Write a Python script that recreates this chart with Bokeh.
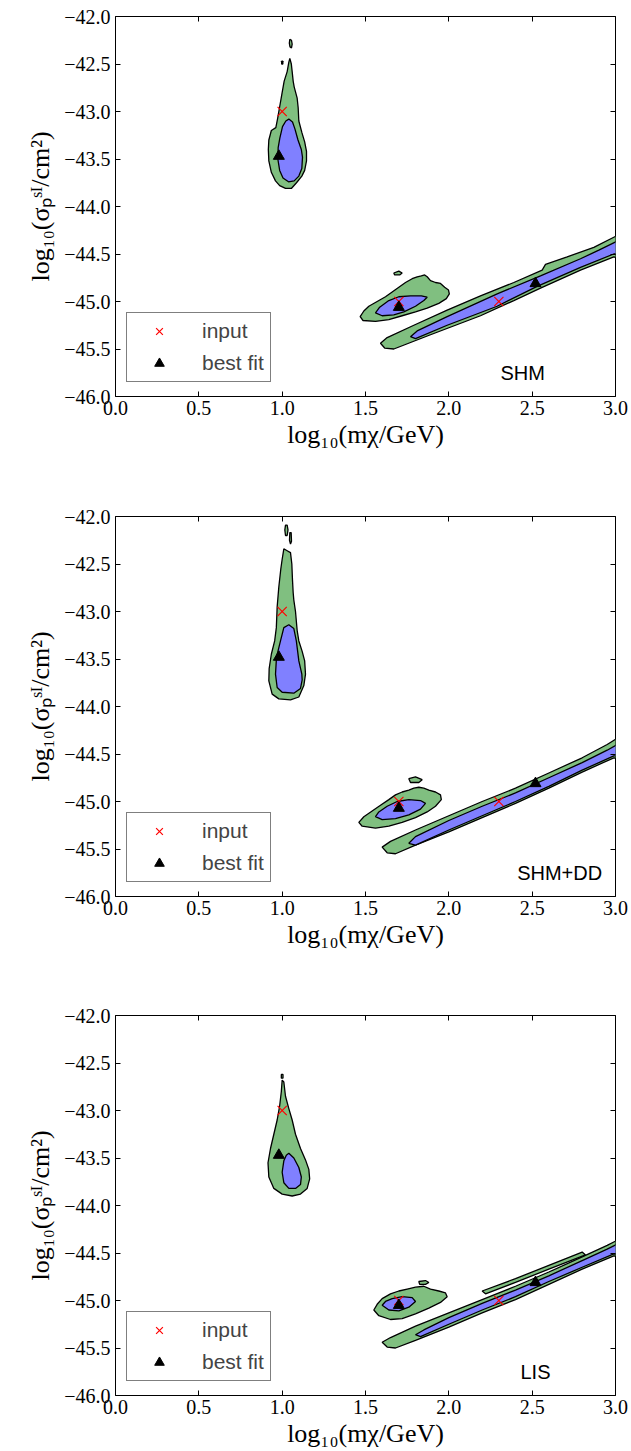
import numpy as np
from bokeh.plotting import figure
from bokeh.layouts import column
from bokeh.models import Legend, LegendItem, LinearAxis, Label, FixedTicker, Range1d
from bokeh.embed import file_html
from bokeh.resources import INLINE

# ---------------- data ----------------
x_ticks = [0.0, 0.5, 1.0, 1.5, 2.0, 2.5, 3.0]
x_tick_labels = ["0.0", "0.5", "1.0", "1.5", "2.0", "2.5", "3.0"]
y_ticks = [-46.0, -45.5, -45.0, -44.5, -44.0, -43.5, -43.0, -42.5, -42.0]
y_tick_labels = ["\u221246.0", "\u221245.5", "\u221245.0", "\u221244.5", "\u221244.0",
                 "\u221243.5", "\u221243.0", "\u221242.5", "\u221242.0"]

panel_names = ["SHM", "SHM+DD", "LIS"]

input_x = [1.0, 1.7, 2.3]
input_y = [-43.0, -45.0, -45.0]

fit_x_shm = [0.98, 1.70, 2.52]
fit_y_shm = [-43.47, -45.06, -44.81]
fit_x_dd = [0.98, 1.70, 2.52]
fit_y_dd = [-43.48, -45.07, -44.81]
fit_x_lis = [0.98, 1.70, 2.52]
fit_y_lis = [-43.47, -45.05, -44.81]

# ---- SHM contours (2 sigma = green, 1 sigma = blue) ----
shm_g_low_x = [1.046, 1.055, 1.060, 1.066, 1.072, 1.090, 1.096, 1.100, 1.118, 1.135, 1.146, 1.146, 1.135,
               1.118, 1.086, 1.055, 1.020, 0.985, 0.960, 0.935, 0.920, 0.917, 0.920, 0.935, 0.962, 0.972,
               0.985, 0.998, 1.012, 1.030, 1.040]
shm_g_low_y = [-42.44, -42.50, -42.58, -42.68, -42.74, -42.86, -42.96, -43.10, -43.22, -43.32, -43.42, -43.52,
               -43.62, -43.68, -43.75, -43.81, -43.81, -43.78, -43.73, -43.64, -43.52, -43.40, -43.30, -43.20,
               -43.17, -43.08, -42.95, -42.82, -42.68, -42.58, -42.48]
shm_g_isl1_x = [1.046, 1.056, 1.060, 1.056, 1.047, 1.043]
shm_g_isl1_y = [-42.24, -42.25, -42.29, -42.33, -42.32, -42.28]
shm_g_isl2_x = [0.997, 1.004, 1.004, 0.997]
shm_g_isl2_y = [-42.47, -42.47, -42.50, -42.50]
shm_b_low_x = [1.040, 1.062, 1.076, 1.095, 1.115, 1.122, 1.118, 1.100, 1.072, 1.038, 1.005, 0.985, 0.974,
               0.976, 0.986, 1.002, 1.022]
shm_b_low_y = [-43.08, -43.11, -43.18, -43.30, -43.40, -43.48, -43.60, -43.68, -43.73, -43.74, -43.70, -43.62,
               -43.50, -43.38, -43.28, -43.16, -43.10]

shm_g_mid_x = [1.468, 1.485, 1.560, 1.640, 1.720, 1.800, 1.870, 1.940, 1.985, 2.003, 1.998, 1.975, 1.950,
               1.920, 1.890, 1.870, 1.855, 1.835, 1.810, 1.780, 1.740, 1.700, 1.660, 1.620, 1.570, 1.520,
               1.490]
shm_g_mid_y = [-45.16, -45.20, -45.21, -45.19, -45.15, -45.11, -45.07, -45.02, -44.97, -44.92, -44.88, -44.85,
               -44.81, -44.80, -44.78, -44.74, -44.72, -44.73, -44.74, -44.76, -44.80, -44.85, -44.90, -44.95,
               -45.00, -45.05, -45.10]
shm_b_mid_x = [1.560, 1.600, 1.670, 1.730, 1.800, 1.850, 1.870, 1.835, 1.770, 1.700, 1.640, 1.585]
shm_b_mid_y = [-45.12, -45.15, -45.14, -45.11, -45.05, -44.99, -44.955, -44.94, -44.94, -44.95, -44.99, -45.06]
shm_g_isl3_x = [1.670, 1.700, 1.720, 1.705, 1.675]
shm_g_isl3_y = [-44.70, -44.68, -44.70, -44.72, -44.72]

shm_g_high_x = [1.590, 1.630, 1.790, 1.990, 2.190, 2.390, 2.560, 2.580, 2.710, 2.870, 3.050, 3.050, 2.990,
                2.790, 2.550, 2.390, 2.190, 1.890, 1.670, 1.615]
shm_g_high_y = [-45.44, -45.38, -45.25, -45.09, -44.94, -44.80, -44.67, -44.61, -44.53, -44.43, -44.27, -44.56,
                -44.53, -44.67, -44.86, -44.99, -45.15, -45.35, -45.50, -45.49]
shm_b_high_x = [1.770, 1.810, 1.990, 2.290, 2.550, 2.790, 2.900, 3.050, 3.050, 2.990, 2.790, 2.530, 2.290,
                1.990, 1.800]
shm_b_high_y = [-45.37, -45.31, -45.16, -44.92, -44.73, -44.55, -44.46, -44.33, -44.49, -44.50, -44.64, -44.84,
                -45.05, -45.25, -45.39]

# ---- SHM+DD contours ----
dd_g_low_x = [1.010, 1.030, 1.050, 1.058, 1.062, 1.066, 1.070, 1.080, 1.090, 1.100, 1.120, 1.135, 1.140, 1.130,
              1.100, 1.050, 0.980, 0.940, 0.920, 0.922, 0.935, 0.955, 0.965, 0.970, 0.980, 0.992, 1.000]
dd_g_low_y = [-42.34, -42.36, -42.38, -42.50, -42.67, -42.80, -42.88, -43.00, -43.20, -43.31, -43.42, -43.52,
              -43.66, -43.78, -43.90, -43.93, -43.92, -43.87, -43.73, -43.60, -43.45, -43.31, -43.17, -42.95,
              -42.74, -42.55, -42.45]
dd_g_isl1_x = [1.020, 1.030, 1.035, 1.030, 1.020, 1.016]
dd_g_isl1_y = [-42.09, -42.09, -42.14, -42.20, -42.20, -42.14]
dd_g_isl2_x = [1.046, 1.054, 1.056, 1.050, 1.044]
dd_g_isl2_y = [-42.17, -42.17, -42.26, -42.29, -42.25]
dd_b_low_x = [1.040, 1.070, 1.085, 1.100, 1.118, 1.120, 1.110, 1.070, 1.000, 0.970, 0.960, 0.966, 0.990, 1.010]
dd_b_low_y = [-43.14, -43.18, -43.31, -43.52, -43.66, -43.72, -43.81, -43.86, -43.85, -43.80, -43.66, -43.48,
              -43.31, -43.17]

dd_g_mid_x = [1.460, 1.480, 1.560, 1.640, 1.720, 1.800, 1.870, 1.920, 1.955, 1.950, 1.920, 1.880, 1.850,
              1.820, 1.790, 1.760, 1.720, 1.680, 1.640, 1.590, 1.540, 1.490]
dd_g_mid_y = [-45.22, -45.26, -45.28, -45.26, -45.22, -45.17, -45.11, -45.05, -44.98, -44.93, -44.90, -44.88,
              -44.86, -44.85, -44.86, -44.88, -44.90, -44.93, -44.98, -45.04, -45.10, -45.16]
dd_b_mid_x = [1.560, 1.600, 1.680, 1.760, 1.830, 1.860, 1.830, 1.760, 1.690, 1.630, 1.580]
dd_b_mid_y = [-45.16, -45.19, -45.18, -45.14, -45.08, -45.02, -44.99, -44.98, -45.00, -45.05, -45.11]
dd_g_isl3_x = [1.760, 1.800, 1.840, 1.820, 1.770]
dd_g_isl3_y = [-44.76, -44.74, -44.77, -44.80, -44.80]

dd_g_high_x = [1.600, 1.650, 1.800, 2.000, 2.200, 2.400, 2.600, 2.800, 2.950, 3.050, 3.050, 2.990, 2.800,
               2.600, 2.400, 2.200, 2.000, 1.800, 1.680, 1.630]
dd_g_high_y = [-45.48, -45.42, -45.30, -45.15, -45.00, -44.86, -44.70, -44.54, -44.40, -44.29, -44.56, -44.54,
               -44.69, -44.86, -45.02, -45.17, -45.32, -45.46, -45.55, -45.54]
dd_b_high_x = [1.760, 1.800, 2.000, 2.200, 2.400, 2.600, 2.800, 2.950, 3.050, 3.050, 2.990, 2.800, 2.600,
               2.400, 2.200, 2.000, 1.800]
dd_b_high_y = [-45.44, -45.37, -45.20, -45.05, -44.91, -44.75, -44.59, -44.46, -44.36, -44.52, -44.52, -44.67,
               -44.84, -45.00, -45.15, -45.30, -45.46]

# ---- LIS contours ----
lis_g_low_x = [1.000, 1.010, 1.020, 1.040, 1.060, 1.080, 1.110, 1.140, 1.160, 1.165, 1.150, 1.110, 1.060,
               1.000, 0.950, 0.920, 0.915, 0.930, 0.950, 0.970, 0.985, 0.995]
lis_g_low_y = [-42.68, -42.70, -42.85, -42.98, -43.10, -43.25, -43.40, -43.52, -43.62, -43.72, -43.82, -43.88,
               -43.90, -43.88, -43.82, -43.70, -43.55, -43.40, -43.25, -43.10, -42.95, -42.80]
lis_g_isl1_x = [0.995, 1.005, 1.005, 0.995]
lis_g_isl1_y = [-42.62, -42.62, -42.66, -42.66]
lis_b_low_x = [1.040, 1.070, 1.100, 1.115, 1.110, 1.080, 1.040, 1.010, 1.000, 1.010, 1.025]
lis_b_low_y = [-43.45, -43.50, -43.60, -43.70, -43.78, -43.82, -43.82, -43.76, -43.65, -43.53, -43.47]

lis_g_mid_x = [1.550, 1.580, 1.650, 1.720, 1.800, 1.880, 1.950, 1.990, 1.980, 1.940, 1.890, 1.850, 1.800,
               1.750, 1.700, 1.650, 1.600, 1.570]
lis_g_mid_y = [-45.10, -45.16, -45.20, -45.19, -45.14, -45.08, -45.02, -44.96, -44.92, -44.90, -44.88, -44.85,
               -44.86, -44.88, -44.90, -44.93, -44.98, -45.04]
lis_b_mid_x = [1.600, 1.640, 1.700, 1.760, 1.800, 1.780, 1.720, 1.660, 1.620]
lis_b_mid_y = [-45.05, -45.10, -45.11, -45.07, -45.01, -44.97, -44.96, -44.98, -45.01]
lis_g_isl3_x = [1.820, 1.860, 1.880, 1.860, 1.825]
lis_g_isl3_y = [-44.80, -44.79, -44.81, -44.83, -44.83]

lis_g_high_x = [1.600, 1.650, 1.800, 2.000, 2.200, 2.400, 2.600, 2.800, 2.950, 3.050, 3.050, 2.990, 2.800,
                2.600, 2.400, 2.200, 2.000, 1.800, 1.680, 1.630]
lis_g_high_y = [-45.44, -45.39, -45.27, -45.13, -44.99, -44.85, -44.70, -44.54, -44.42, -44.33, -44.55, -44.53,
                -44.67, -44.83, -44.99, -45.13, -45.28, -45.42, -45.50, -45.49]
lis_g_branch_x = [2.200, 2.400, 2.600, 2.800, 2.820, 2.600, 2.400, 2.220]
lis_g_branch_y = [-44.90, -44.77, -44.63, -44.49, -44.52, -44.67, -44.81, -44.93]
lis_b_high_x = [1.800, 1.850, 2.000, 2.200, 2.400, 2.600, 2.800, 2.950, 3.050, 3.050, 2.990, 2.800, 2.600,
                2.400, 2.200, 2.000, 1.830]
lis_b_high_y = [-45.36, -45.31, -45.18, -45.03, -44.89, -44.74, -44.58, -44.46, -44.37, -44.52, -44.51, -44.65,
                -44.80, -44.96, -45.10, -45.25, -45.38]

panels = [
    dict(name=panel_names[0], fit_x=fit_x_shm, fit_y=fit_y_shm,
         green=[(shm_g_low_x, shm_g_low_y), (shm_g_isl1_x, shm_g_isl1_y), (shm_g_isl2_x, shm_g_isl2_y),
                (shm_g_mid_x, shm_g_mid_y), (shm_g_isl3_x, shm_g_isl3_y), (shm_g_high_x, shm_g_high_y)],
         blue=[(shm_b_low_x, shm_b_low_y), (shm_b_mid_x, shm_b_mid_y), (shm_b_high_x, shm_b_high_y)],
         label_x=2.31),
    dict(name=panel_names[1], fit_x=fit_x_dd, fit_y=fit_y_dd,
         green=[(dd_g_low_x, dd_g_low_y), (dd_g_isl1_x, dd_g_isl1_y), (dd_g_isl2_x, dd_g_isl2_y),
                (dd_g_mid_x, dd_g_mid_y), (dd_g_isl3_x, dd_g_isl3_y), (dd_g_high_x, dd_g_high_y)],
         blue=[(dd_b_low_x, dd_b_low_y), (dd_b_mid_x, dd_b_mid_y), (dd_b_high_x, dd_b_high_y)],
         label_x=2.41),
    dict(name=panel_names[2], fit_x=fit_x_lis, fit_y=fit_y_lis,
         green=[(lis_g_low_x, lis_g_low_y), (lis_g_isl1_x, lis_g_isl1_y), (lis_g_mid_x, lis_g_mid_y),
                (lis_g_isl3_x, lis_g_isl3_y), (lis_g_high_x, lis_g_high_y), (lis_g_branch_x, lis_g_branch_y)],
         blue=[(lis_b_low_x, lis_b_low_y), (lis_b_mid_x, lis_b_mid_y), (lis_b_high_x, lis_b_high_y)],
         label_x=2.43),
]

GREEN = "#80bf80"
BLUE = "#8080ff"
SERIF = "Liberation Serif"
SANS = "Liberation Sans"

figs = []
for i, pd_ in enumerate(panels):
    last = (i == 2)
    h = 451 if last else 500
    top = 15 if last else 16
    p = figure(width=631, height=h, output_backend="svg", toolbar_location=None,
               x_range=Range1d(0, 3), y_range=Range1d(-46, -42),
               x_axis_location=None, y_axis_location=None,
               min_border_left=115, min_border_right=16, min_border_top=top,
               min_border_bottom=h - top - 380)
    p.xgrid.visible = False
    p.ygrid.visible = False
    p.outline_line_color = "black"
    p.outline_line_width = 1
    p.background_fill_color = "white"

    gx = [g[0] for g in pd_["green"]]
    gy = [g[1] for g in pd_["green"]]
    bx = [b[0] for b in pd_["blue"]]
    by = [b[1] for b in pd_["blue"]]
    p.patches(gx, gy, fill_color=GREEN, line_color="black", line_width=1.3)
    p.patches(bx, by, fill_color=BLUE, line_color="black", line_width=1.3)

    r_in = p.scatter(input_x, input_y, marker="x", size=13, line_color="red", line_width=1.2)
    r_fit = p.scatter(pd_["fit_x"], pd_["fit_y"], marker="triangle", size=11,
                      fill_color="black", line_color="black")

    xo = dict(zip(x_ticks, x_tick_labels))
    yo = dict(zip(y_ticks, y_tick_labels))
    xb = LinearAxis(ticker=FixedTicker(ticks=x_ticks), major_label_overrides=xo)
    yl = LinearAxis(ticker=FixedTicker(ticks=y_ticks), major_label_overrides=yo)
    xt = LinearAxis(ticker=FixedTicker(ticks=x_ticks),
                    major_label_overrides={t: "" for t in x_ticks})
    yr = LinearAxis(ticker=FixedTicker(ticks=y_ticks),
                    major_label_overrides={t: "" for t in y_ticks})
    p.add_layout(xb, "below")
    p.add_layout(yl, "left")
    p.add_layout(xt, "above")
    p.add_layout(yr, "right")
    for ax in (xb, yl, xt, yr):
        ax.axis_line_color = None
        ax.major_tick_in = 5
        ax.major_tick_out = 0
        ax.minor_tick_line_color = None
        ax.major_tick_line_color = "black"
        ax.major_label_text_font = SERIF
        ax.major_label_text_color = "black"
        ax.major_label_text_font_size = "20px"
    xb.major_label_standoff = 4
    yl.major_label_standoff = 5
    xb.axis_label = "log\u2081\u2080(m\u03c7/GeV)"
    yl.axis_label = "log\u2081\u2080(\u03c3\u209a\u02e2\u1d35/cm\u00b2)"
    for ax in (xb, yl):
        ax.axis_label_text_font = SERIF
        ax.axis_label_text_font_size = "26px"
        ax.axis_label_text_font_style = "normal"
        ax.axis_label_text_color = "black"
    xb.axis_label_standoff = 2
    yl.axis_label_standoff = 6

    legend = Legend(items=[LegendItem(label="input", renderers=[r_in]),
                           LegendItem(label="best fit", renderers=[r_fit])],
                    location=(11, 14), padding=6, spacing=8, label_height=24, glyph_width=52,
                    glyph_height=24, label_standoff=17, margin=0,
                    label_text_font=SANS, label_text_font_size="21px",
                    border_line_color="black", border_line_width=1, background_fill_alpha=1)
    p.add_layout(legend, "center")

    p.add_layout(Label(x=pd_["label_x"], y=-45.87, text=pd_["name"], text_font=SANS,
                       text_font_size="20px", text_color="black"))
    figs.append(p)

layout = column(*figs)
open("out.html", "w").write(file_html(layout, INLINE))
